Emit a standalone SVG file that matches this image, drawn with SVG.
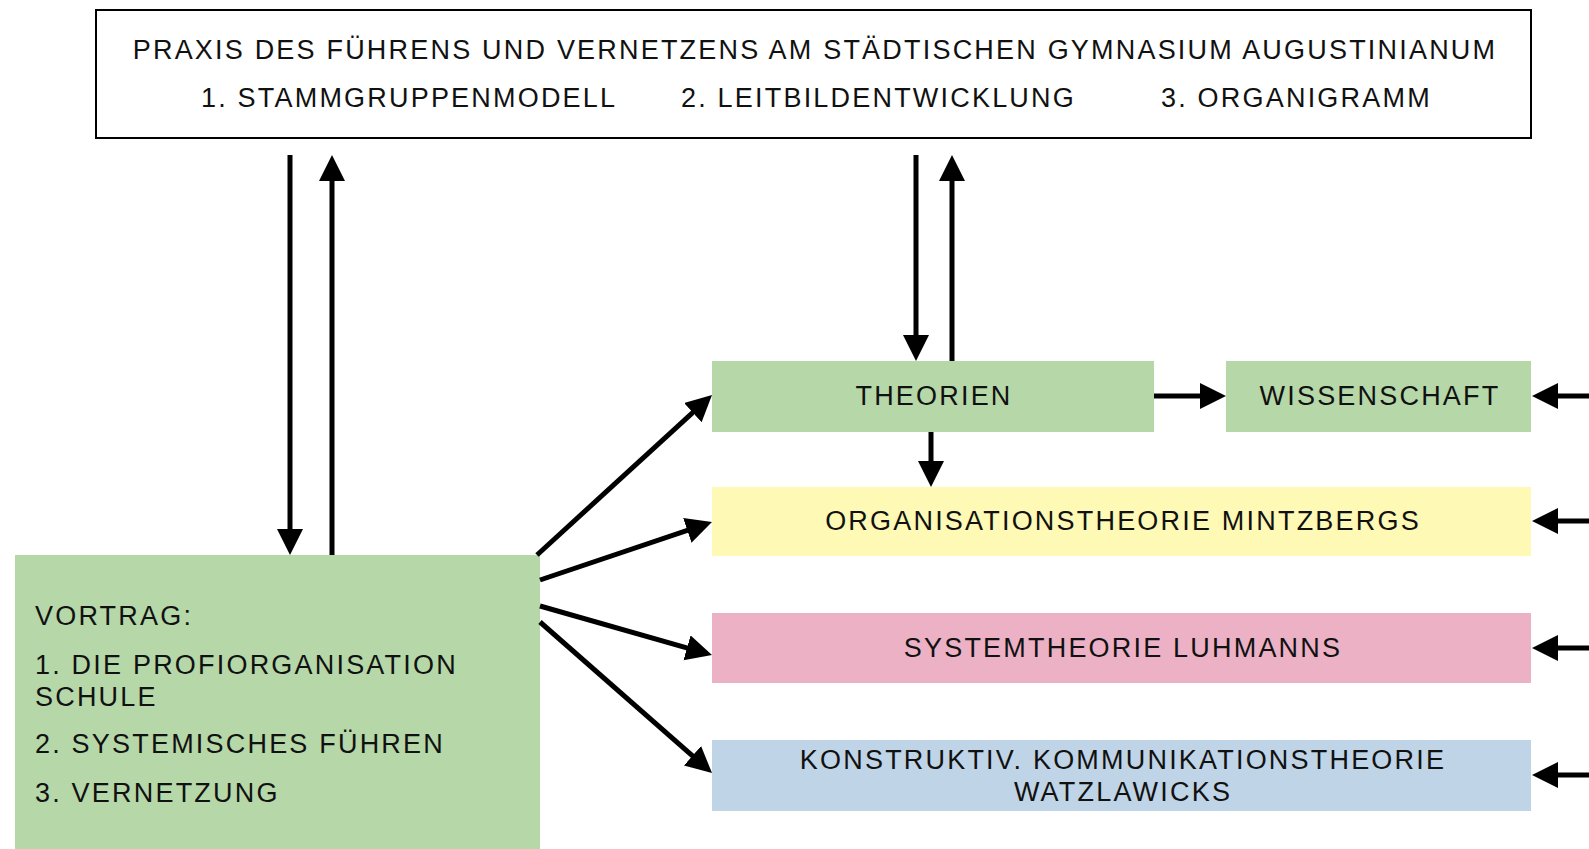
<svg xmlns="http://www.w3.org/2000/svg" width="1589" height="849" viewBox="0 0 1589 849">
<style>
text{font-family:"Liberation Sans",Arial,sans-serif;font-size:27px;letter-spacing:2.2px;fill:#111}
.c{text-anchor:middle}
.ln{stroke:#000;stroke-width:5;fill:none;marker-end:url(#ah)}
</style>
<defs>
<marker id="ah" markerUnits="userSpaceOnUse" markerWidth="28" markerHeight="28" refX="18" refY="13" orient="auto" viewBox="0 0 28 28">
<path d="M0,0 L26,13 L0,26 z" fill="#000"/>
</marker>
</defs>
<rect width="1589" height="849" fill="#fff"/>
<g id="praxis">
<rect x="96" y="10" width="1435" height="128" fill="#fff" stroke="#000" stroke-width="2"/>
<text class="c" x="815" y="59">PRAXIS DES FÜHRENS UND VERNETZENS AM STÄDTISCHEN GYMNASIUM AUGUSTINIANUM</text>
<text x="201" y="107">1. STAMMGRUPPENMODELL</text>
<text x="681" y="107">2. LEITBILDENTWICKLUNG</text>
<text x="1161" y="107">3. ORGANIGRAMM</text>
</g>
<g id="theorien">
<rect x="712" y="361" width="442" height="71" fill="#b6d7a8"/>
<text class="c" x="934" y="405">THEORIEN</text>
</g>
<g id="wissenschaft">
<rect x="1226" y="361" width="305" height="71" fill="#b6d7a8"/>
<text class="c" x="1380" y="405">WISSENSCHAFT</text>
</g>
<g id="mintzberg">
<rect x="712" y="487" width="819" height="69" fill="#fef9b4"/>
<text class="c" x="1123" y="530">ORGANISATIONSTHEORIE MINTZBERGS</text>
</g>
<g id="luhmann">
<rect x="712" y="613" width="819" height="70" fill="#ecb1c5"/>
<text class="c" x="1123" y="657">SYSTEMTHEORIE LUHMANNS</text>
</g>
<g id="watzlawick">
<rect x="712" y="740" width="819" height="71" fill="#bfd4e6"/>
<text class="c" x="1123" y="769">KONSTRUKTIV. KOMMUNIKATIONSTHEORIE</text>
<text class="c" x="1123" y="801">WATZLAWICKS</text>
</g>
<g id="vortrag">
<rect x="15" y="555" width="525" height="294" fill="#b6d7a8"/>
<text x="35" y="625">VORTRAG:</text>
<text x="35" y="674">1. DIE PROFIORGANISATION</text>
<text x="35" y="706">SCHULE</text>
<text x="35" y="753">2. SYSTEMISCHES FÜHREN</text>
<text x="35" y="802">3. VERNETZUNG</text>
</g>
<g id="connectors">
<line class="ln" x1="290" y1="155" x2="290" y2="547"/>
<line class="ln" x1="332" y1="555" x2="332" y2="163"/>
<line class="ln" x1="916" y1="155" x2="916" y2="353"/>
<line class="ln" x1="952" y1="361" x2="952" y2="163"/>
<line class="ln" x1="931" y1="432" x2="931" y2="479"/>
<line class="ln" x1="1154" y1="396" x2="1218" y2="396"/>
<line class="ln" x1="537" y1="555" x2="706.1" y2="400.4"/>
<line class="ln" x1="540" y1="580" x2="704.4" y2="524.6"/>
<line class="ln" x1="540" y1="606" x2="704.3" y2="652.8"/>
<line class="ln" x1="540" y1="622" x2="706" y2="767.7"/>
<line class="ln" x1="1595" y1="396" x2="1540" y2="396"/>
<line class="ln" x1="1595" y1="521" x2="1540" y2="521"/>
<line class="ln" x1="1595" y1="648" x2="1540" y2="648"/>
<line class="ln" x1="1595" y1="775" x2="1540" y2="775"/>
</g>
</svg>
